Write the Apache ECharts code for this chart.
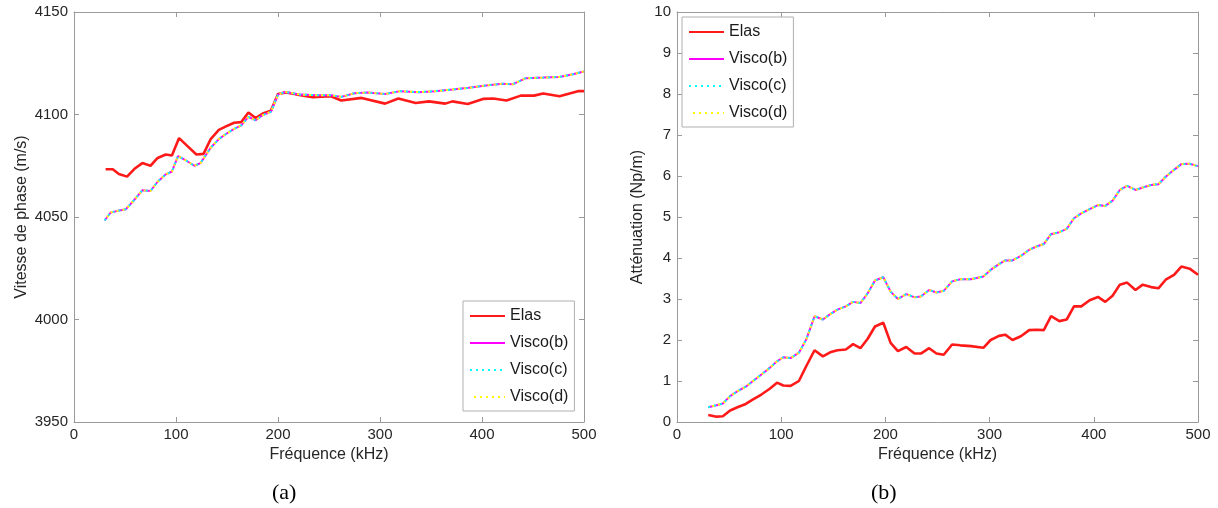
<!DOCTYPE html>
<html>
<head>
<meta charset="utf-8">
<script src="https://cdn.jsdelivr.net/npm/echarts@6/dist/echarts.min.js"></script>
<style>
html,body{margin:0;padding:0;background:#fff;}
#c{width:1218px;height:508px;}
</style>
</head>
<body>
<div id="c"></div>
<script>
// ---- Data: (a) phase velocity ----
const fElasA = [31,38,44,52,60,67,75,82,90,96,103,111,120,127,134,142,149,157,164,171,178,185,193,200,208,216,222,234,252,262,282,305,318,335,348,364,371,386,401,411,424,438,451,460,476,494,500];
const vElasA = [4073.3,4073.3,4071,4069.7,4073.8,4076.3,4075,4078.8,4080.5,4080,4088.5,4084.7,4080.5,4080.8,4088,4092.5,4094.2,4096,4096.3,4101,4098.3,4100.5,4101.8,4110,4110.8,4110,4109.4,4108.4,4108.9,4106.8,4108.1,4105.3,4107.8,4105.6,4106.4,4105.3,4106.4,4105.1,4107.6,4107.8,4106.8,4109.2,4109.2,4110.2,4108.9,4111.4,4111.4];
const fViscoA = [30,36,43,51,59,67,75,82,90,96,102,111,118,124,134,142,149,157,164,171,178,185,193,200,207,222,238,252,262,275,288,305,320,338,354,371,387,404,420,430,443,460,476,489,500];
const vViscoA = [4048.3,4052.2,4053,4053.8,4058.3,4063,4062.7,4067.2,4070.8,4072.2,4079.7,4077.2,4075,4076.3,4083.8,4088,4090.5,4093,4094.7,4098.8,4097.2,4099.7,4101.3,4109.7,4111,4109.7,4109.4,4109.4,4108.6,4110.4,4110.7,4110,4111.4,4110.9,4111.4,4112.2,4113,4114.2,4115,4114.7,4117.7,4118,4118.3,4119.6,4121];

// ---- Data: (b) attenuation ----
const fB = [30,38,44,51,58,66,73,81,89,96,102,109,117,124,132,140,147,154,162,169,176,183,190,198,205,212,220,228,234,242,249,256,264,272,282,294,301,309,315,322,330,338,345,352,359,367,374,381,388,396,404,411,418,425,432,440,447,455,462,469,477,484,492,500];
const aElasB = [0.17,0.13,0.14,0.28,0.36,0.44,0.55,0.67,0.81,0.96,0.89,0.88,1.0,1.36,1.75,1.6,1.7,1.75,1.77,1.9,1.8,2.03,2.33,2.42,1.93,1.73,1.83,1.67,1.67,1.8,1.67,1.64,1.89,1.87,1.85,1.81,2.0,2.1,2.13,2.0,2.09,2.24,2.25,2.24,2.58,2.46,2.5,2.82,2.82,2.97,3.05,2.93,3.08,3.35,3.4,3.22,3.35,3.29,3.26,3.47,3.59,3.79,3.74,3.59];
const aViscoB = [0.36,0.41,0.45,0.63,0.75,0.86,1.0,1.16,1.32,1.48,1.58,1.56,1.69,2.01,2.58,2.5,2.63,2.74,2.82,2.93,2.9,3.14,3.45,3.53,3.18,3.0,3.12,3.04,3.06,3.22,3.16,3.2,3.43,3.48,3.48,3.55,3.71,3.85,3.94,3.94,4.05,4.2,4.28,4.34,4.58,4.63,4.71,4.97,5.09,5.19,5.29,5.27,5.4,5.66,5.76,5.66,5.72,5.78,5.8,5.98,6.15,6.29,6.3,6.24];

const seriesNames = ['Elas','Visco(b)','Visco(c)','Visco(d)'];
const xTicksMax = 500;

const zip = (xs, ys) => xs.map((x, i) => [x, ys[i]]);

const AX = '#9a9a9a';
const TXT = '#262626';
const FONT = 'Liberation Sans';

function xAxes(gi) {
  const base = {
    type: 'value', gridIndex: gi, min: 0, max: xTicksMax, interval: 100,
    axisLine: { show: true, onZero: false, lineStyle: { color: AX, width: 1 } },
    axisTick: { show: true, inside: true, length: 5, lineStyle: { color: AX } },
    splitLine: { show: false }
  };
  return [
    Object.assign({}, base, {
      position: 'bottom',
      axisLabel: { color: TXT, fontSize: 15, fontFamily: FONT, margin: 5, formatter: v => String(v) },
      name: 'Fréquence (kHz)', nameLocation: 'middle', nameGap: 25,
      nameTextStyle: { color: TXT, fontSize: 16, fontFamily: FONT }
    }),
    Object.assign({}, base, { position: 'top', axisLabel: { show: false } })
  ];
}
function yAxes(gi, min, max, interval, name, nameGap) {
  const base = {
    type: 'value', gridIndex: gi, min: min, max: max, interval: interval,
    axisLine: { show: true, onZero: false, lineStyle: { color: AX, width: 1 } },
    axisTick: { show: true, inside: true, length: 5, lineStyle: { color: AX } },
    splitLine: { show: false }
  };
  return [
    Object.assign({}, base, {
      position: 'left',
      axisLabel: { color: TXT, fontSize: 15, fontFamily: FONT, margin: 6, formatter: v => String(v) },
      name: name, nameLocation: 'middle', nameGap: nameGap, nameRotate: 90,
      nameTextStyle: { color: TXT, fontSize: 16, fontFamily: FONT }
    }),
    Object.assign({}, base, { position: 'right', axisLabel: { show: false } })
  ];
}

function lineSeries(name, data, xi, yi, style) {
  return {
    name: name, type: 'line', xAxisIndex: xi, yAxisIndex: yi,
    data: data, showSymbol: false, symbol: 'none', animation: false,
    lineStyle: style, itemStyle: { color: style.color }
  };
}

function chartSeries(xi, yi, fE, vE, fV, vV) {
  return [
    lineSeries(seriesNames[0], zip(fE, vE), xi, yi, { color: '#ff1a1a', width: 2.6 }),
    lineSeries(seriesNames[1], zip(fV, vV), xi, yi, { color: '#ff00ff', width: 2 }),
    lineSeries(seriesNames[2], zip(fV, vV), xi, yi, { color: '#00ffff', width: 2, type: [2, 4], dashOffset: 0 }),
    lineSeries(seriesNames[3], zip(fV, vV), xi, yi, { color: '#ffff00', width: 2, type: [2, 4], dashOffset: 2 })
  ];
}

function legend(left, top) {
  return {
    data: seriesNames, orient: 'vertical', left: left, top: top,
    backgroundColor: '#fff', borderColor: '#b0b0b0', borderWidth: 1,
    padding: [7, 6, 6, 6], itemWidth: 35, itemHeight: 14, itemGap: 11,
    selectedMode: false,
    itemStyle: { color: 'rgba(0,0,0,0)', borderColor: 'rgba(0,0,0,0)', borderWidth: 0 },
    textStyle: { color: '#1a1a1a', fontSize: 16, fontFamily: FONT }
  };
}

const chart = echarts.init(document.getElementById('c'), null, { renderer: 'canvas' });
chart.setOption({
  backgroundColor: '#fff',
  animation: false,
  grid: [
    { left: 74, right: 634, top: 12, bottom: 86, outerBoundsMode: 'none' },
    { left: 677, right: 20, top: 12, bottom: 86, outerBoundsMode: 'none' }
  ],
  xAxis: [...xAxes(0), ...xAxes(1)],
  yAxis: [...yAxes(0, 3950, 4150, 50, 'Vitesse de phase (m/s)', 44), ...yAxes(1, 0, 10, 1, 'Atténuation (Np/m)', 31)],
  legend: [legend(463, 301), legend(682, 17)],
  series: [
    ...chartSeries(0, 0, fElasA, vElasA, fViscoA, vViscoA),
    ...chartSeries(2, 2, fB, aElasB, fB, aViscoB)
  ],
  graphic: [
    { type: 'text', left: 272, top: 482, style: { text: '(a)', fontSize: 22, fontFamily: 'Liberation Serif', fill: '#000' } },
    { type: 'text', left: 871, top: 482, style: { text: '(b)', fontSize: 22, fontFamily: 'Liberation Serif', fill: '#000' } }
  ]
});
</script>
</body>
</html>
